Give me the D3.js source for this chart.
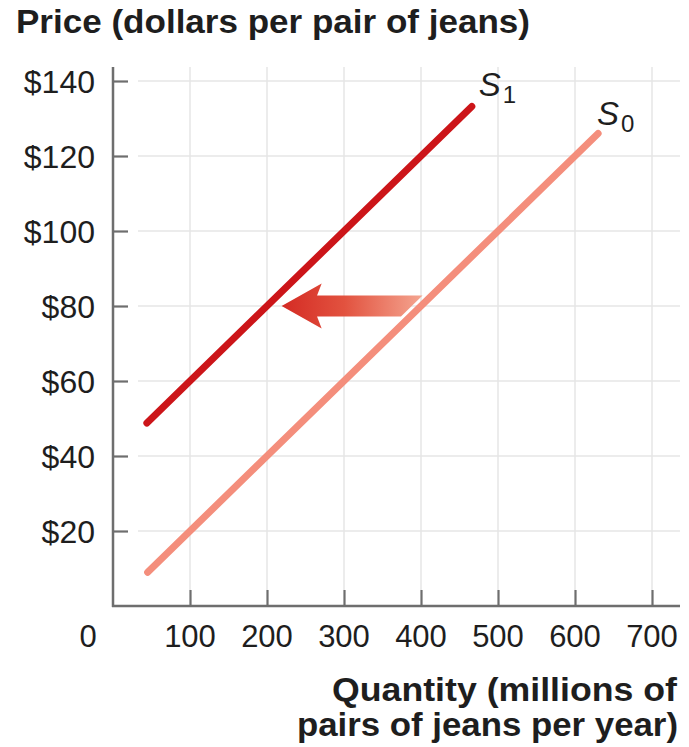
<!DOCTYPE html>
<html>
<head>
<meta charset="utf-8">
<script src="https://cdn.jsdelivr.net/npm/d3@7"></script>
<style>
  html, body { margin: 0; padding: 0; background: #fff; }
  svg { display: block; font-family: "Liberation Sans", Arial, Helvetica, sans-serif; }
</style>
</head>
<body>
<svg id="chart" width="689" height="747"></svg>
<script>
// Tick values
const priceTicks = [20, 40, 60, 80, 100, 120, 140];
const quantityTicks = [100, 200, 300, 400, 500, 600, 700];

// Supply curves: endpoints (quantity, price)
const supplyS0 = [{ q: 45, p: 9 }, { q: 630, p: 126 }];
const supplyS1 = [{ q: 44, p: 48.8 }, { q: 466, p: 133.2 }];

// Shift arrow: from S0 toward S1 at a price of $80
const shiftPrice = 80;
const shiftFromQ = 400;
const shiftToQ = 219;

const svg = d3.select("#chart");

const x = d3.scaleLinear().domain([0, 700]).range([113, 652]);
const y = d3.scaleLinear().domain([0, 140]).range([606, 81]);

const axisColor = "#6e6e6e";
const gridColor = "#e6e6e6";
const textColor = "#1e1e1e";

// Gridlines
svg.append("g").selectAll("line").data(priceTicks).join("line")
  .attr("x1", 138).attr("x2", 680)
  .attr("y1", d => y(d)).attr("y2", d => y(d))
  .attr("stroke", gridColor).attr("stroke-width", 1.5);

svg.append("g").selectAll("line").data(quantityTicks).join("line")
  .attr("x1", d => x(d)).attr("x2", d => x(d))
  .attr("y1", 67).attr("y2", 590)
  .attr("stroke", gridColor).attr("stroke-width", 1.5);

// Axes (ticks drawn inward)
const yAxis = d3.axisRight(y).tickValues(priceTicks).tickSize(15).tickFormat("");
const yG = svg.append("g").attr("transform", `translate(${x(0)},0)`).call(yAxis);
const xAxis = d3.axisTop(x).tickValues(quantityTicks).tickSize(16).tickFormat("");
const xG = svg.append("g").attr("transform", `translate(0,${y(0)})`).call(xAxis);
[yG, xG].forEach(g => {
  g.select(".domain").remove();
  g.selectAll(".tick line").attr("stroke", axisColor).attr("stroke-width", 2.2);
});
svg.append("line").attr("x1", x(0)).attr("x2", x(0)).attr("y1", 67).attr("y2", y(0) + 1)
  .attr("stroke", axisColor).attr("stroke-width", 2.5);
svg.append("line").attr("x1", x(0) - 1).attr("x2", 680).attr("y1", y(0)).attr("y2", y(0))
  .attr("stroke", axisColor).attr("stroke-width", 2.5);

// Tick labels
svg.append("g").selectAll("text").data(priceTicks).join("text")
  .attr("x", 95).attr("y", d => y(d)).attr("dy", "0.36em")
  .attr("text-anchor", "end").attr("font-size", 32).attr("fill", textColor)
  .text(d => "$" + d);

svg.append("g").selectAll("text").data([0].concat(quantityTicks)).join("text")
  .attr("x", d => d === 0 ? 88 : x(d)).attr("y", 647)
  .attr("text-anchor", "middle").attr("font-size", 31).attr("fill", textColor)
  .text(d => d);

// Axis titles
svg.append("text").attr("x", 16).attr("y", 33)
  .attr("font-size", 33).attr("font-weight", "bold").attr("fill", textColor)
  .attr("textLength", 514).attr("lengthAdjust", "spacingAndGlyphs")
  .text("Price (dollars per pair of jeans)");

svg.append("text").attr("x", 332).attr("y", 701)
  .attr("font-size", 33).attr("font-weight", "bold").attr("fill", textColor)
  .attr("textLength", 345).attr("lengthAdjust", "spacingAndGlyphs")
  .text("Quantity (millions of");
svg.append("text").attr("x", 297).attr("y", 736)
  .attr("font-size", 33).attr("font-weight", "bold").attr("fill", textColor)
  .attr("textLength", 381).attr("lengthAdjust", "spacingAndGlyphs")
  .text("pairs of jeans per year)");

// Supply lines
const line = d3.line().x(d => x(d.q)).y(d => y(d.p));
svg.append("path").datum(supplyS0).attr("d", line)
  .attr("stroke", "#f48e7c").attr("stroke-width", 7).attr("stroke-linecap", "round").attr("fill", "none");
svg.append("path").datum(supplyS1).attr("d", line)
  .attr("stroke", "#cc1519").attr("stroke-width", 7).attr("stroke-linecap", "round").attr("fill", "none");

// Shift arrow with gradient
const defs = svg.append("defs");
const grad = defs.append("linearGradient").attr("id", "shiftGrad")
  .attr("gradientUnits", "userSpaceOnUse")
  .attr("x1", x(shiftToQ)).attr("x2", x(shiftFromQ)).attr("y1", 0).attr("y2", 0);
grad.append("stop").attr("offset", 0).attr("stop-color", "#d42b24");
grad.append("stop").attr("offset", 0.45).attr("stop-color", "#e2523f");
grad.append("stop").attr("offset", 1).attr("stop-color", "#f4a48f");

const shaftHalf = 2.8;   // dollars
const headHalf = 6;      // dollars
const headBaseQ = 271;
const s0Slope = (supplyS0[1].p - supplyS0[0].p) / (supplyS0[1].q - supplyS0[0].q);
// tail edge runs parallel to S0, leaving a small gap before the line
const tailGapQ = 12;
const tailTopQ = shiftFromQ - tailGapQ + shaftHalf / s0Slope;
const tailBotQ = shiftFromQ - tailGapQ - shaftHalf / s0Slope;
const arrowPts = [
  [shiftToQ, shiftPrice],
  [headBaseQ, shiftPrice + headHalf],
  [headBaseQ - 6, shiftPrice + shaftHalf],
  [tailTopQ, shiftPrice + shaftHalf],
  [tailBotQ, shiftPrice - shaftHalf],
  [headBaseQ - 6, shiftPrice - shaftHalf],
  [headBaseQ, shiftPrice - headHalf]
];
svg.append("path")
  .attr("d", d3.line().x(d => x(d[0])).y(d => y(d[1]))(arrowPts) + "Z")
  .attr("fill", "url(#shiftGrad)");

// Curve labels
function curveLabel(px, py, sub) {
  const t = svg.append("text").attr("x", px).attr("y", py)
    .attr("font-size", 33).attr("fill", textColor);
  t.append("tspan").attr("font-style", "italic").text("S");
  t.append("tspan").attr("font-size", 24).attr("dx", 2).attr("dy", 7).text(sub);
}
curveLabel(x(supplyS1[1].q) + 7, y(supplyS1[1].p) - 11, "1");
curveLabel(x(supplyS0[1].q) - 1, y(supplyS0[1].p) - 9, "0");
</script>
</body>
</html>
